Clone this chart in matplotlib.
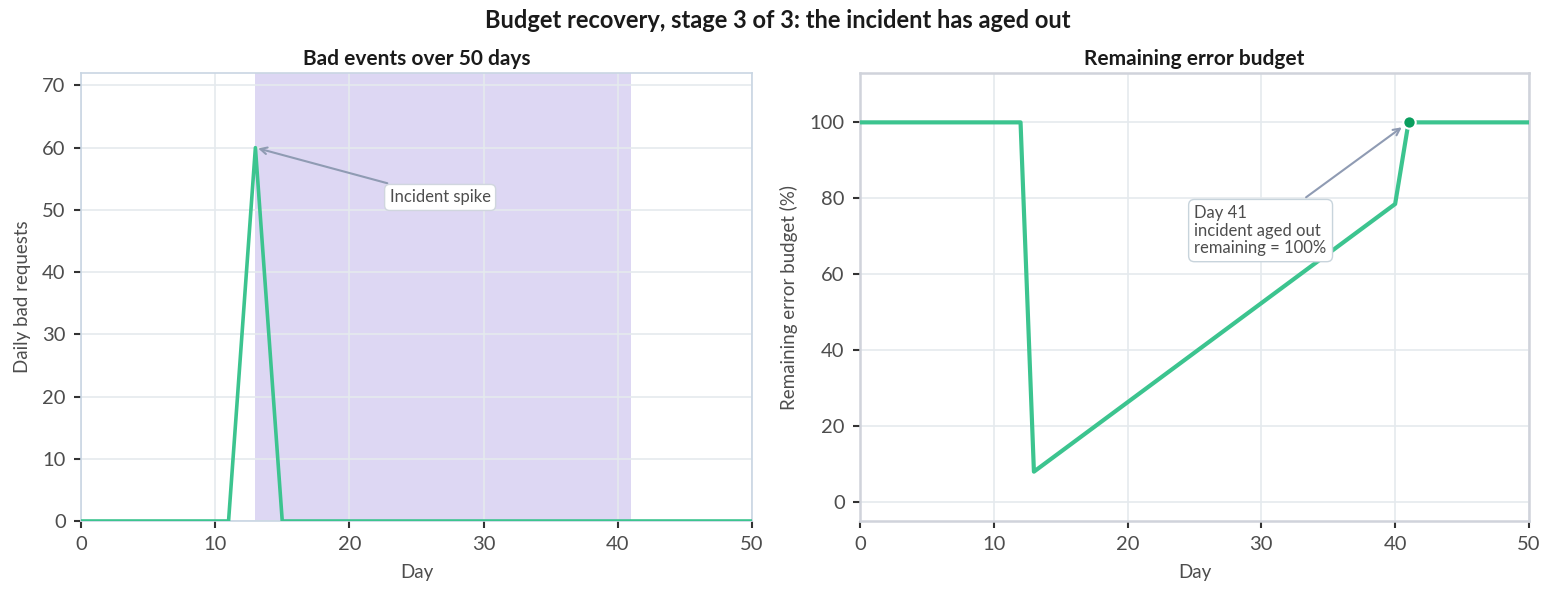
import matplotlib
matplotlib.use("Agg")
import matplotlib.pyplot as plt

plt.rcParams['font.family'] = ['Lato', 'DejaVu Sans']

# data
bad_days = [0, 11, 13, 15, 50]
bad_requests = [0, 0, 60, 0, 0]
window_start = 13
window_end = 41

budget_days = [0, 12, 13, 40, 41, 50]
budget_remaining = [100, 100, 8, 78.5, 100, 100]
aged_out_day = 41
aged_out_value = 100

LINE = '#3cc48f'
DOT = '#0a9e5e'
SHADE = '#ddd7f3'
GRID = '#e5eaee'
ARROW = '#8f9bb3'
TEXT = '#4d4d4d'

fig = plt.figure(figsize=(15.56, 5.97), dpi=100)
ax1 = fig.add_axes([0.052, 0.1273, 0.4313, 0.7504])
ax2 = fig.add_axes([0.5527, 0.1273, 0.4299, 0.7504])

fig.suptitle('Budget recovery, stage 3 of 3: the incident has aged out',
             fontsize=17, fontweight='bold', color='#1a1a1a', y=0.985)


def style(ax, spine_color, spine_width):
    ax.grid(True, color=GRID, linewidth=1.2)
    ax.set_axisbelow(True)
    for s in ax.spines.values():
        s.set_color(spine_color)
        s.set_linewidth(spine_width)
    ax.tick_params(colors='#333333', labelsize=14.5, length=5, width=1.5,
                   labelcolor=TEXT, pad=6)
    ax.set_xlim(0, 50)
    ax.set_xticks([0, 10, 20, 30, 40, 50])


# left panel
ax1.axvspan(window_start, window_end, color=SHADE, zorder=0.5, lw=0)
ax1.plot(bad_days, bad_requests, color=LINE, lw=2.6, zorder=3)
ax1.set_ylim(0, 72)
ax1.set_yticks(range(0, 71, 10))
style(ax1, '#c9d6e3', 1.2)
ax1.set_title('Bad events over 50 days', fontsize=15, fontweight='bold',
              color='#1a1a1a', pad=6)
ax1.set_xlabel('Day', fontsize=13.5, color=TEXT, labelpad=8)
ax1.set_ylabel('Daily bad requests', fontsize=13.5, color=TEXT, labelpad=8)
ax1.annotate('Incident spike', xy=(13, 60), xytext=(23, 52),
             fontsize=12, color=TEXT, ha='left', va='center',
             bbox=dict(boxstyle='round,pad=0.3', fc='white', ec='#d0d6de'),
             arrowprops=dict(arrowstyle='->', color=ARROW, lw=1.5,
                             shrinkA=2, shrinkB=2))

# right panel
ax2.plot(budget_days, budget_remaining, color=LINE, lw=3, zorder=3)
ax2.scatter([aged_out_day], [aged_out_value], s=80, color=DOT,
            edgecolor='white', linewidth=1.5, zorder=4)
ax2.set_ylim(-5, 113)
ax2.set_yticks(range(0, 101, 20))
style(ax2, '#d0d3db', 1.8)
ax2.set_title('Remaining error budget', fontsize=15, fontweight='bold',
              color='#1a1a1a', pad=6)
ax2.set_xlabel('Day', fontsize=13.5, color=TEXT, labelpad=8)
ax2.set_ylabel('Remaining error budget (%)', fontsize=13.5, color=TEXT,
               labelpad=8)
ax2.annotate('Day 41\nincident aged out\nremaining = 100%',
             xy=(aged_out_day, aged_out_value), xytext=(25, 71.5),
             fontsize=12, color=TEXT, ha='left', va='center',
             linespacing=1.1,
             bbox=dict(boxstyle='round,pad=0.35', fc='white', ec='#c8d4dc'),
             arrowprops=dict(arrowstyle='->', color=ARROW, lw=1.5,
                             shrinkA=2, shrinkB=6))

fig.savefig('out.png', dpi=100)
